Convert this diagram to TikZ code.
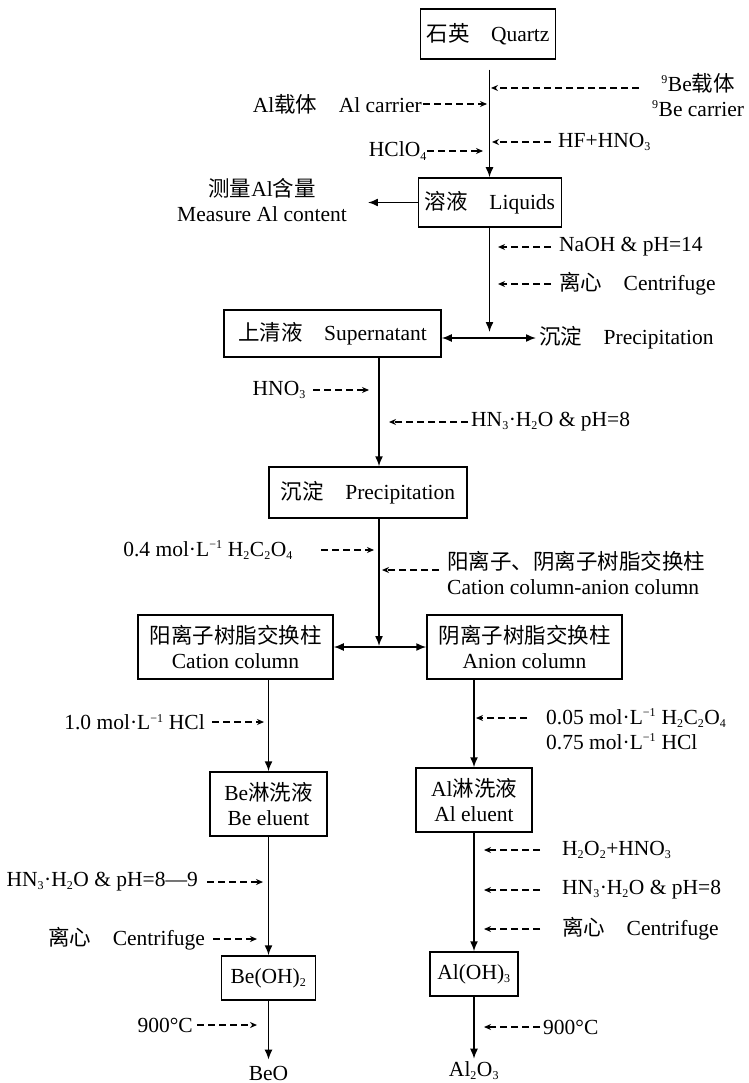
\documentclass[tikz,border=0pt]{standalone}
\usepackage{fontspec}
\setmainfont{Liberation Serif}
\newfontfamily\cjk{Noto Sans CJK SC}
\usetikzlibrary{arrows.meta}
\newcommand{\zh}[1]{{\cjk #1}}
\newcommand{\dn}[1]{\textsubscript{\fontsize{12}{12}\selectfont #1}}
\newcommand{\up}[1]{\textsuperscript{\fontsize{12}{12}\selectfont #1}}
\newcommand{\molL}{mol·L\up{−1}}

\begin{document}
\begin{tikzpicture}[x=1pt,y=-1pt,
      >={Latex[length=10pt,width=8pt]},
      box/.style={rectangle,draw,line width=1.5pt,inner sep=0pt,
                  minimum height=49pt,align=center},
      lbl/.style={inner sep=0pt,align=center},
      flow/.style={->,line width=1.5pt},
      twoway/.style={<->,line width=1.5pt},
      reag/.style={-{Stealth[length=7pt,width=6pt]},line width=1.5pt,
                   dash pattern=on 7pt off 4pt},
      font=\fontsize{21.5}{25}\selectfont
    ]
    \useasboundingbox (0,0) rectangle (748,1083);

    % axes of the vertical lines
    \coordinate (axA) at (489.5,0);
    \coordinate (axB) at (379,0);
    \coordinate (axC) at (268.5,0);
    \coordinate (axD) at (474,0);
    \coordinate (split1) at (489.5,338);
    \coordinate (split2) at (379,647);

    % boxes
    \node[box,minimum width=135pt,minimum height=50pt] (quartz) at (488,34) {\zh{石英}\quad Quartz};
    \node[box,minimum width=143pt] (liquids) at (490,202.5) {\zh{溶液}\quad Liquids};
    \node[box,minimum width=217pt,minimum height=47pt] (super) at (332.5,333.5) {\zh{上清液}\quad Supernatant};
    \node[box,minimum width=198pt,minimum height=51pt] (precip) at (368,492.5) {\zh{沉淀}\quad Precipitation};
    \node[box,minimum width=195pt,minimum height=64pt] (cation) at (235.5,647) {\zh{阳离子树脂交换柱}\\Cation column};
    \node[box,minimum width=195pt,minimum height=64pt] (anion) at (524.5,647) {\zh{阴离子树脂交换柱}\\Anion column};
    \node[box,minimum width=117pt,minimum height=64pt] (beel) at (268.5,804) {Be\zh{淋洗液}\\Be eluent};
    \node[box,minimum width=116pt,minimum height=64pt] (alel) at (474,800) {Al\zh{淋洗液}\\Al eluent};
    \node[box,minimum width=94pt,minimum height=44pt] (beoh) at (268.5,978) {Be(OH)\dn{2}};
    \node[box,minimum width=88pt,minimum height=44pt] (aloh) at (474,974) {Al(OH)\dn{3}};

    % products
    \node[lbl] (measure) at (262,200) {\zh{测量}Al\zh{含量}\\Measure Al content};
    \node[lbl,anchor=west] (precip2) at (539,338) {\zh{沉淀}\quad Precipitation};
    \node[lbl] (beo) at (268.5,1073) {BeO};
    \node[lbl] (alo) at (474,1071) {Al\dn{2}O\dn{3}};

    % reagents
    \node[lbl,anchor=east] (alc) at (422,104) {Al\zh{载体}\quad Al carrier};
    \node[lbl,anchor=east] (hclo) at (427,151) {HClO\dn{4}};
    \node[lbl,anchor=west] (bec) at (652,95) {\up{9}Be\zh{载体}\\\up{9}Be carrier};
    \node[lbl,anchor=west] (hf) at (558,142) {HF+HNO\dn{3}};
    \node[lbl,anchor=west] (naoh) at (559,247) {NaOH \& pH=14};
    \node[lbl,anchor=west] (cen0) at (559,284) {\zh{离心}\quad Centrifuge};
    \node[lbl,anchor=east] (hno) at (306,390) {HNO\dn{3}};
    \node[lbl,anchor=west] (nh0) at (471,422) {HN\dn{3}·H\dn{2}O \& pH=8};
    \node[lbl,anchor=east] (oxa) at (293,550) {0.4 \molL\ H\dn{2}C\dn{2}O\dn{4}};
    \node[lbl,anchor=west,align=left] (mix) at (447,573) {\zh{阳离子、阴离子树脂交换柱}\\Cation column-anion column};
    \node[lbl,anchor=east] (hcl1) at (205,722) {1.0 \molL\ HCl};
    \node[lbl,anchor=west,align=left] (oxa2) at (546,729) {0.05 \molL\ H\dn{2}C\dn{2}O\dn{4}\\0.75 \molL\ HCl};
    \node[lbl,anchor=east] (nh1) at (198,882) {HN\dn{3}·H\dn{2}O \& pH=8—9};
    \node[lbl,anchor=east] (cen1) at (205,939) {\zh{离心}\quad Centrifuge};
    \node[lbl,anchor=east] (heat1) at (193,1025) {900°C};
    \node[lbl,anchor=west] (h2o2) at (562,850) {H\dn{2}O\dn{2}+HNO\dn{3}};
    \node[lbl,anchor=west] (nh2) at (562,890) {HN\dn{3}·H\dn{2}O \& pH=8};
    \node[lbl,anchor=west] (cen2) at (562,929) {\zh{离心}\quad Centrifuge};
    \node[lbl,anchor=west] (heat2) at (543,1027) {900°C};
    \coordinate (becin) at (489.5,88);
    \coordinate (mixin) at (379,570);
    \coordinate (oxain) at (474,718);

    % main flow
    \draw[flow,shorten <=10pt] (quartz.south -| axA) -- (liquids.north -| axA);
    \draw[flow,shorten >=21pt] (liquids.west) -- (liquids.west -| measure.east);
    \draw[flow,shorten >=6pt] (liquids.south -| axA) -- (split1);
    \draw[twoway,shorten >=3pt] (split1 -| super.east) -- (split1 -| precip2.west);
    \draw[flow] (super.south -| axB) -- (precip.north -| axB);
    \draw[flow,shorten >=1pt] (precip.south -| axB) -- (split2);
    \draw[twoway] (cation.east) -- (anion.west);
    \draw[flow] (cation.south -| axC) -- (beel.north);
    \draw[flow] (anion.south -| axD) -- (alel.north);
    \draw[flow] (beel.south) -- (beoh.north);
    \draw[flow] (alel.south) -- (aloh.north);
    \draw[flow,shorten >=6pt] (beoh.south) -- (beo.north);
    \draw[flow,shorten >=3pt] (aloh.south) -- (alo.north);

    % reagent arrows
    \draw[reag,shorten <=1pt,shorten >=2.5pt] (alc.east) -- (alc.east -| axA);
    \draw[reag,shorten >=6.5pt] (hclo.east) -- (hclo.east -| axA);
    \draw[reag,shorten <=13pt,shorten >=1.5pt] (bec.west |- becin) -- (becin);
    \draw[reag,shorten <=7pt,shorten >=2.5pt] (hf.west) -- (hf.west -| axA);
    \draw[reag,shorten <=8pt,shorten >=8.5pt] (naoh.west) -- (naoh.west -| axA);
    \draw[reag,shorten <=8pt,shorten >=8.5pt] (cen0.west) -- (cen0.west -| axA);
    \draw[reag,shorten <=7pt,shorten >=10pt] (hno.east) -- (hno.east -| axB);
    \draw[reag,shorten <=3pt,shorten >=10pt] (nh0.west) -- (nh0.west -| axB);
    \draw[reag,shorten <=28pt,shorten >=5pt] (oxa.east) -- (oxa.east -| axB);
    \draw[reag,shorten <=8pt,shorten >=3pt] (mix.west |- mixin) -- (mixin);
    \draw[reag,shorten <=7pt,shorten >=4.5pt] (hcl1.east) -- (hcl1.east -| axC);
    \draw[reag,shorten <=19pt,shorten >=2pt] (oxa2.west |- oxain) -- (oxain);
    \draw[reag,shorten <=9pt,shorten >=5.5pt] (nh1.east) -- (nh1.east -| axC);
    \draw[reag,shorten <=8pt,shorten >=11.5pt] (cen1.east) -- (cen1.east -| axC);
    \draw[reag,shorten <=4pt,shorten >=11.5pt] (heat1.east) -- (heat1.east -| axC);
    \draw[reag,shorten <=22pt,shorten >=10pt] (h2o2.west) -- (h2o2.west -| axD);
    \draw[reag,shorten <=22pt,shorten >=10pt] (nh2.west) -- (nh2.west -| axD);
    \draw[reag,shorten <=22pt,shorten >=10pt] (cen2.west) -- (cen2.west -| axD);
    \draw[reag,shorten <=3pt,shorten >=10pt] (heat2.west) -- (heat2.west -| axD);

  \end{tikzpicture}
\end{document}
